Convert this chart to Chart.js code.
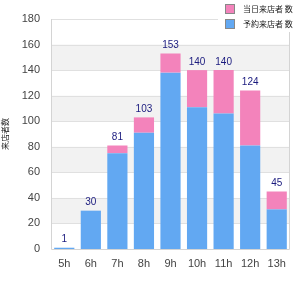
<!DOCTYPE html>
<html><head><meta charset="utf-8">
<script src="https://cdn.jsdelivr.net/npm/chart.js@4/dist/chart.umd.min.js"></script>
<style>html,body{margin:0;padding:0;background:#fff}#w{width:300px;height:300px}</style>
</head><body><div id="w"><canvas id="c" width="300" height="300"></canvas></div>
<script>
const categories = ['5h','6h','7h','8h','9h','10h','11h','12h','13h'];
const blueValues = [1, 30, 75, 91, 138, 111, 106, 81, 31];
const pinkValues = [0, 0, 6, 12, 15, 29, 34, 43, 14];
const totals = [1, 30, 81, 103, 153, 140, 140, 124, 45];
const pinkLabel = '当日来店者 数';
const blueLabel = '予約来店者 数';
const yTitle = '来店者数';
const yTicks = [0, 20, 40, 60, 80, 100, 120, 140, 160, 180];

const FONT = "'Liberation Sans', Arial, sans-serif";
const CJK = "'Noto Sans CJK JP', sans-serif";

const bandsPlugin = {
  id: 'bands',
  beforeDatasetsDraw(chart) {
    const {ctx, chartArea: a, scales: {y}} = chart;
    ctx.save();
    for (let i = 0; i < yTicks.length - 1; i++) {
      if (i % 2 === 1) {
        const top = y.getPixelForValue(yTicks[i + 1]);
        const bot = y.getPixelForValue(yTicks[i]);
        ctx.fillStyle = '#f2f2f2';
        ctx.fillRect(a.left, top, a.right - a.left, bot - top);
      }
    }
    ctx.strokeStyle = '#e0e0e0';
    ctx.lineWidth = 1;
    for (let i = 1; i < yTicks.length; i++) {
      const p = Math.round(y.getPixelForValue(yTicks[i])) + 0.5;
      ctx.beginPath(); ctx.moveTo(a.left, p); ctx.lineTo(a.right, p); ctx.stroke();
    }
    ctx.strokeStyle = '#d4d4d4';
    ctx.beginPath();
    ctx.moveTo(Math.round(a.left) + 0.5, a.top);
    ctx.lineTo(Math.round(a.left) + 0.5, Math.round(a.bottom) + 0.5);
    ctx.lineTo(Math.round(a.right) - 0.5, Math.round(a.bottom) + 0.5);
    ctx.lineTo(Math.round(a.right) - 0.5, a.top);
    ctx.stroke();
    ctx.restore();
  },
  afterDatasetsDraw(chart) {
    const {ctx, scales: {x, y}} = chart;
    ctx.save();
    ctx.fillStyle = '#1a1a7e';
    ctx.font = '10px ' + FONT;
    ctx.textAlign = 'center';
    ctx.textBaseline = 'bottom';
    totals.forEach((t, i) => {
      ctx.fillText(String(t), x.getPixelForValue(i), y.getPixelForValue(t) - 3);
    });
    ctx.restore();
  },
  afterDraw(chart) {
    const {ctx} = chart;
    const ds = chart.data.datasets;
    const order = [1, 0];
    ctx.save();
    ctx.fillStyle = '#fff';
    ctx.fillRect(218, 0, 82, 32);
    order.forEach((di, k) => {
      const cy = 9 + k * 15;
      ctx.fillStyle = ds[di].backgroundColor;
      ctx.fillRect(226, cy - 4, 8, 8);
      ctx.strokeStyle = '#888';
      ctx.lineWidth = 1;
      ctx.strokeRect(225.5, cy - 4.5, 9, 9);
      ctx.fillStyle = '#222';
      ctx.font = '8px ' + CJK;
      ctx.textAlign = 'left';
      ctx.textBaseline = 'middle';
      ctx.fillText(ds[di].label, 243, cy);
    });
    ctx.restore();
  }
};

new Chart(document.getElementById('c'), {
  type: 'bar',
  data: {
    labels: categories,
    datasets: [
      {label: blueLabel, data: blueValues, backgroundColor: '#62a8f2', stack: 's', barPercentage: 0.76, categoryPercentage: 1},
      {label: pinkLabel, data: pinkValues, backgroundColor: '#f383bb', stack: 's', barPercentage: 0.76, categoryPercentage: 1}
    ]
  },
  plugins: [bandsPlugin],
  options: {
    responsive: false,
    animation: false,
    devicePixelRatio: 1,
    layout: {padding: {left: 0, right: 10, top: 19, bottom: 29}},
    plugins: {legend: {display: false}, tooltip: {enabled: false}},
    scales: {
      x: {
        stacked: true,
        grid: {display: false, drawTicks: false},
        border: {display: false},
        ticks: {color: '#444', font: {size: 11, family: FONT}, padding: 8},
        afterFit(s) { s.height = 22; }
      },
      y: {
        stacked: true,
        min: 0, max: 180,
        afterBuildTicks(s) { s.ticks = yTicks.map(v => ({value: v})); },
        grid: {display: false, drawTicks: false},
        border: {display: false},
        ticks: {color: '#444', font: {size: 11, family: FONT}, padding: 11},
        title: {display: true, text: yTitle, color: '#222', font: {size: 8, family: CJK}, padding: 0},
        afterFit(s) { s.width = 51; }
      }
    }
  }
});
</script></body></html>
